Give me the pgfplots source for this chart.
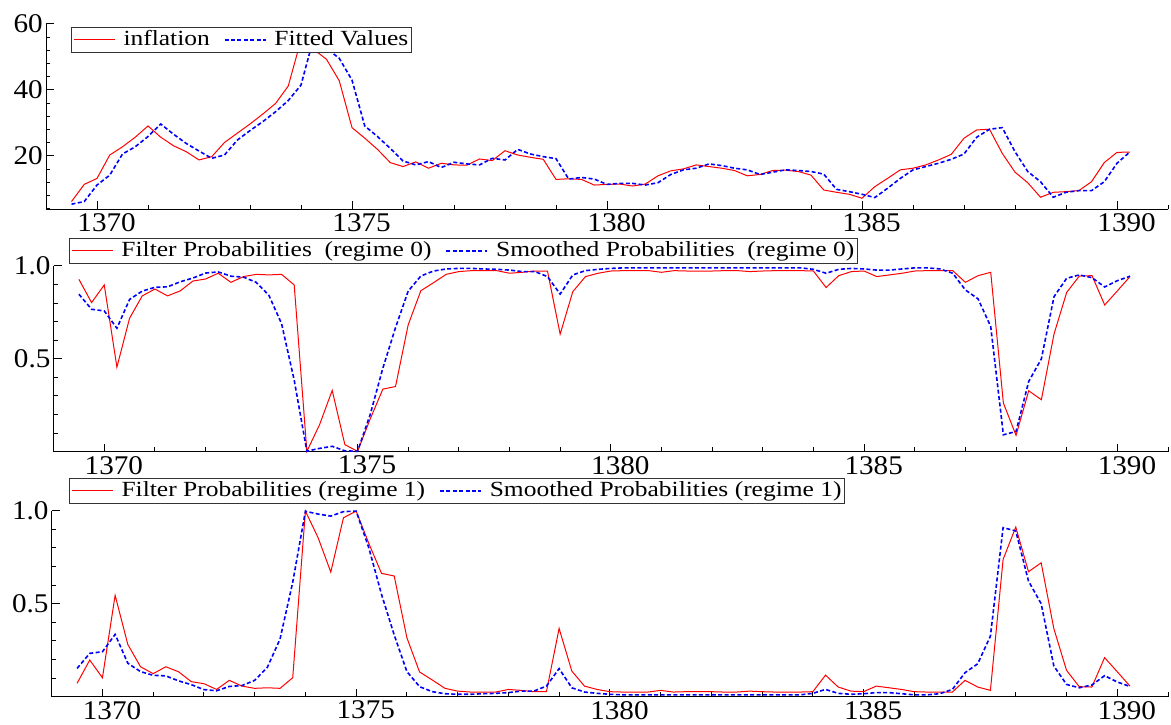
\documentclass[border=0pt]{standalone}
\usepackage{fontspec}
\setmainfont{Liberation Serif}[FakeStretch=1.08]
\newfontfamily\legfont{Liberation Serif}[FakeStretch=1.18]
\usepackage{pgfplots}
\usepackage{pgfplotstable}
\pgfplotsset{compat=1.18}

\pgfplotstableread{
x infl fit
1369.50 6.2 5.4
1369.75 11.4 6.2
1370.00 13.2 11.2
1370.25 20.3 14.2
1370.50 22.8 20.6
1370.75 25.7 22.8
1371.00 29.1 25.9
1371.25 25.7 29.7
1371.50 23.1 26.6
1371.75 21.3 23.8
1372.00 18.8 21.5
1372.25 19.8 19.3
1372.50 24.1 20.3
1372.75 26.9 24.8
1373.00 29.7 27.7
1373.25 32.7 30.4
1373.50 35.9 33.4
1373.75 41.2 36.8
1374.00 55.2 41.5
1374.25 52.3 55.9
1374.50 49.3 52.6
1374.75 42.8 49.6
1375.00 28.6 43.0
1375.25 25.4 29.1
1375.50 22.0 25.9
1375.75 18.0 22.3
1376.00 16.8 18.5
1376.25 18.2 17.3
1376.50 16.3 18.3
1376.75 17.8 16.5
1377.00 17.3 18.1
1377.25 17.2 17.6
1377.50 19.1 17.3
1377.75 18.6 19.3
1378.00 21.6 18.8
1378.25 20.3 22.0
1378.50 19.6 20.6
1378.75 19.0 19.8
1379.00 12.9 19.2
1379.25 13.1 13.0
1379.50 12.9 13.5
1379.75 11.2 13.0
1380.00 11.4 11.4
1380.25 11.5 11.7
1380.50 10.9 11.7
1380.75 11.5 11.2
1381.00 14.0 11.9
1381.25 15.5 14.4
1381.50 16.1 15.8
1381.75 17.3 16.3
1382.00 16.8 17.6
1382.25 16.3 17.1
1382.50 15.6 16.3
1382.75 14.0 15.8
1383.00 14.4 14.4
1383.25 15.6 15.1
1383.50 15.7 15.8
1383.75 15.3 15.6
1384.00 14.2 15.3
1384.25 9.7 14.5
1384.50 9.0 9.9
1384.75 8.4 9.2
1385.00 7.2 8.4
1385.25 10.7 7.4
1385.50 13.2 10.2
1385.75 15.8 13.2
1386.00 16.3 15.8
1386.25 17.3 16.8
1386.50 18.8 17.8
1386.75 20.5 19.0
1387.00 25.4 20.6
1387.25 27.9 25.7
1387.50 28.1 28.1
1387.75 20.8 28.6
1388.00 15.1 21.3
1388.25 11.9 15.3
1388.50 7.5 12.2
1388.75 9.0 7.5
1389.00 9.2 9.0
1389.25 9.5 9.5
1389.50 12.2 9.5
1389.75 18.0 12.2
1390.00 21.1 17.8
1390.25 21.2 21.2
}\tabinfl

\pgfplotstableread{
x f s
1369.50 0.928 0.848
1369.75 0.803 0.767
1370.00 0.898 0.758
1370.25 0.455 0.665
1370.50 0.719 0.820
1370.75 0.839 0.865
1371.00 0.876 0.885
1371.25 0.839 0.888
1371.50 0.866 0.915
1371.75 0.919 0.935
1372.00 0.930 0.962
1372.25 0.961 0.968
1372.50 0.912 0.945
1372.75 0.943 0.940
1373.00 0.955 0.912
1373.25 0.952 0.842
1373.50 0.955 0.690
1373.75 0.898 0.385
1374.00 0.002 0.003
1374.25 0.145 0.018
1374.50 0.330 0.029
1374.75 0.038 0.005
1375.00 0.002 0.002
1375.25 0.176 0.200
1375.50 0.337 0.450
1375.75 0.351 0.668
1376.00 0.683 0.865
1376.25 0.867 0.946
1376.50 0.910 0.973
1376.75 0.955 0.984
1377.00 0.970 0.987
1377.25 0.975 0.987
1377.50 0.975 0.984
1377.75 0.975 0.982
1378.00 0.961 0.978
1378.25 0.966 0.970
1378.50 0.973 0.970
1378.75 0.973 0.943
1379.00 0.633 0.849
1379.25 0.862 0.952
1379.50 0.943 0.975
1379.75 0.961 0.982
1380.00 0.973 0.987
1380.25 0.975 0.990
1380.50 0.975 0.990
1380.75 0.975 0.990
1381.00 0.966 0.990
1381.25 0.975 0.990
1381.50 0.973 0.990
1381.75 0.973 0.990
1382.00 0.973 0.990
1382.25 0.975 0.990
1382.50 0.975 0.990
1382.75 0.970 0.990
1383.00 0.973 0.990
1383.25 0.975 0.990
1383.50 0.975 0.990
1383.75 0.975 0.990
1384.00 0.973 0.982
1384.25 0.884 0.961
1384.50 0.948 0.982
1384.75 0.970 0.987
1385.00 0.973 0.984
1385.25 0.943 0.978
1385.50 0.952 0.978
1385.75 0.961 0.984
1386.00 0.973 0.990
1386.25 0.975 0.990
1386.50 0.975 0.984
1386.75 0.975 0.961
1387.00 0.912 0.871
1387.25 0.948 0.823
1387.50 0.966 0.674
1387.75 0.262 0.091
1388.00 0.088 0.109
1388.25 0.328 0.378
1388.50 0.280 0.500
1388.75 0.634 0.835
1389.00 0.858 0.934
1389.25 0.946 0.952
1389.50 0.948 0.937
1389.75 0.790 0.887
1390.00 0.866 0.921
1390.25 0.943 0.945
}\tabregzero

\pgfplotstableread{
x f s
1369.50 0.072 0.152
1369.75 0.197 0.233
1370.00 0.102 0.242
1370.25 0.545 0.335
1370.50 0.281 0.180
1370.75 0.161 0.135
1371.00 0.124 0.115
1371.25 0.161 0.112
1371.50 0.134 0.085
1371.75 0.081 0.065
1372.00 0.070 0.038
1372.25 0.039 0.032
1372.50 0.088 0.055
1372.75 0.057 0.060
1373.00 0.045 0.088
1373.25 0.048 0.158
1373.50 0.045 0.310
1373.75 0.102 0.615
1374.00 0.998 0.997
1374.25 0.855 0.982
1374.50 0.670 0.971
1374.75 0.962 0.995
1375.00 0.998 0.998
1375.25 0.824 0.800
1375.50 0.663 0.550
1375.75 0.649 0.332
1376.00 0.317 0.135
1376.25 0.133 0.054
1376.50 0.090 0.027
1376.75 0.045 0.016
1377.00 0.030 0.013
1377.25 0.025 0.013
1377.50 0.025 0.016
1377.75 0.025 0.018
1378.00 0.039 0.022
1378.25 0.034 0.030
1378.50 0.027 0.030
1378.75 0.027 0.057
1379.00 0.367 0.151
1379.25 0.138 0.048
1379.50 0.057 0.025
1379.75 0.039 0.018
1380.00 0.027 0.013
1380.25 0.025 0.010
1380.50 0.025 0.010
1380.75 0.025 0.010
1381.00 0.034 0.010
1381.25 0.025 0.010
1381.50 0.027 0.010
1381.75 0.027 0.010
1382.00 0.027 0.010
1382.25 0.025 0.010
1382.50 0.025 0.010
1382.75 0.030 0.010
1383.00 0.027 0.010
1383.25 0.025 0.010
1383.50 0.025 0.010
1383.75 0.025 0.010
1384.00 0.027 0.018
1384.25 0.116 0.039
1384.50 0.052 0.018
1384.75 0.030 0.013
1385.00 0.027 0.016
1385.25 0.057 0.022
1385.50 0.048 0.022
1385.75 0.039 0.016
1386.00 0.027 0.010
1386.25 0.025 0.010
1386.50 0.025 0.016
1386.75 0.025 0.039
1387.00 0.088 0.129
1387.25 0.052 0.177
1387.50 0.034 0.326
1387.75 0.738 0.909
1388.00 0.912 0.891
1388.25 0.672 0.622
1388.50 0.720 0.500
1388.75 0.366 0.165
1389.00 0.142 0.066
1389.25 0.054 0.048
1389.50 0.052 0.063
1389.75 0.210 0.113
1390.00 0.134 0.079
1390.25 0.057 0.055
}\tabregone

\pgfplotsset{
  panel/.style={
    scale only axis, anchor=south west,
    xmin=1369, xmax=1391,
    axis lines=left,
    axis line style={-, line width=0.5pt, black},
    tick align=inside,
    major tick length=4pt, minor tick length=2.2pt,
    tick style={black, line width=0.5pt},
    xtick={1370,1375,1380,1385,1390},
    minor xtick={1371,1372,1373,1374,1376,1377,1378,1379,1381,1382,1383,1384,1386,1387,1388,1389,1391},
    /pgf/number format/assume math mode=true,
    /pgf/number format/1000 sep={},
    ticklabel style={font=\fontsize{13.5}{14}\selectfont},
    xticklabel style={xshift=4.8pt, inner sep=2pt},
    yticklabel style={inner sep=1.4pt},
    clip=false,
    legend columns=-1,
    legend cell align=left,
    legend style={draw=black!80, line width=0.5pt, fill=white,
      inner sep=1pt, anchor=north west,
      font=\legfont\fontsize{10.8}{11}\selectfont,
      nodes={inner sep=0.5pt, text height=7.7pt, text depth=1.8pt},
      /tikz/every odd column/.append style={column sep=3.5pt},
      /tikz/every even column/.append style={column sep=6.5pt}},
    legend image code/.code={\draw[#1] (0pt,0pt) -- (20.5pt,0pt);},
  },
  redline/.style={red, line width=0.5pt, mark=none},
  blueline/.style={blue, line width=0.8pt, dash pattern=on 2pt off 1.2pt, mark=none},
}

\begin{document}
\begin{tikzpicture}[x=1pt,y=1pt]
\useasboundingbox (0,0) rectangle (585.5,362);

\begin{axis}[panel, at={(23pt,257.35pt)}, width=561pt, height=92.65pt,
  ymin=3.85, ymax=60,
  ytick={20,40,60},
  minor ytick={4,8,12,16,24,28,32,36,44,48,52,56},
  legend style={at={(axis description cs:0.0223,0.985)}}]
\addplot[redline] table[x=x,y=infl] {\tabinfl};
\addlegendentry{inflation}
\addplot[blueline] table[x=x,y=fit] {\tabinfl};
\addlegendentry{Fitted Values}
\end{axis}

\begin{axis}[panel, at={(26.8pt,136.15pt)}, width=557.2pt, height=92.85pt,
  ymin=0, ymax=1,
  ytick={0.5,1.0},
  minor ytick={0.1,0.2,0.3,0.4,0.6,0.7,0.8,0.9},
  yticklabel style={/pgf/number format/.cd, fixed, fixed zerofill, precision=1},
  legend style={at={(axis description cs:0.0138,1.151)}}]
\addplot[redline] table[x=x,y=f] {\tabregzero};
\addlegendentry{Filter Probabilities \ (regime 0)}
\addplot[blueline] table[x=x,y=s] {\tabregzero};
\addlegendentry{Smoothed Probabilities \ (regime 0)}
\end{axis}

\begin{axis}[panel, at={(25.85pt,13.65pt)}, width=558.15pt, height=93pt,
  ymin=0, ymax=1,
  ytick={0.5,1.0},
  minor ytick={0.1,0.2,0.3,0.4,0.6,0.7,0.8,0.9},
  yticklabel style={/pgf/number format/.cd, fixed, fixed zerofill, precision=1},
  legend style={at={(axis description cs:0.0155,1.176)}}]
\addplot[redline] table[x=x,y=f] {\tabregone};
\addlegendentry{Filter Probabilities (regime 1)}
\addplot[blueline] table[x=x,y=s] {\tabregone};
\addlegendentry{Smoothed Probabilities (regime 1)}
\end{axis}
\end{tikzpicture}
\end{document}
